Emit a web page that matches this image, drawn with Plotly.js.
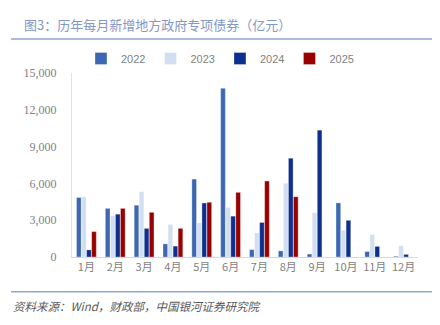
<!DOCTYPE html>
<html><head><meta charset="utf-8">
<script src="https://cdn.plot.ly/plotly-3.0.1.min.js"></script>
<style>html,body{margin:0;padding:0;background:#fff;}#chart{width:440px;height:325px;}</style>
</head><body><div id="chart"></div>
<script>
const months = ["1月","2月","3月","4月","5月","6月","7月","8月","9月","10月","11月","12月"];
const v2022 = [4850, 3960, 4220, 1070, 6350, 13750, 600, 500, 240, 4410, 445, 60];
const v2023 = [4900, 3360, 5320, 2650, 2780, 4040, 1970, 6010, 3620, 2180, 1840, 920];
const v2024 = [580, 3490, 2330, 890, 4400, 3330, 2810, 8050, 10340, 2990, 865, 210];
const v2025 = [2070, 3960, 3640, 2330, 4460, 5270, 6190, 4910, null, null, null, null];
const seriesNames = ["2022","2023","2024","2025"];
const colors = ["#3d67b3","#d2def1","#0d2f8f","#990000"];
const values = [v2022, v2023, v2024, v2025];

const traces = values.map((v,i)=>({
  type:"bar", x:months, y:v, name:seriesNames[i],
  marker:{color:colors[i], line:{color:"rgba(255,255,255,0.6)", width:0.5}},
  hoverinfo:"y"
}));

const layout = {
  width:440, height:325,
  margin:{l:72, r:22, t:67, b:68},
  paper_bgcolor:"#fff", plot_bgcolor:"#fff",
  barmode:"group", bargap:0.3, bargroupgap:0.08,
  font:{family:"Liberation Serif, serif", color:"#7f7f7f", size:11},
  showlegend:true,
  legend:{orientation:"h", xref:"container", x:0.5, xanchor:"center", y:1.0, yref:"container", yanchor:"top",
    font:{family:"Liberation Sans, sans-serif", size:11, color:"#7f7f7f"},
    itemwidth:30, traceorder:"normal"},
  xaxis:{type:"category", showgrid:false, showline:true, linecolor:"#d9d9d9", linewidth:1,
    ticks:"", tickfont:{family:"Noto Sans CJK SC, sans-serif", size:11, color:"#7f7f7f"}, fixedrange:true},
  yaxis:{range:[0,15000], tickvals:[0,3000,6000,9000,12000,15000], tickformat:",d",
    showgrid:false, showline:true, linecolor:"#e3e3e3", linewidth:1, zeroline:false, ticks:"",
    ticklabelstandoff:12,
    tickfont:{family:"Liberation Serif, serif", size:12, color:"#7f7f7f"}, fixedrange:true},
  annotations:[
    {text:"图3：历年每月新增地方政府专项债券（亿元）", xref:"paper", yref:"paper", x:0, y:0, xanchor:"left", yanchor:"middle",
     showarrow:false, font:{family:"Noto Sans CJK SC, sans-serif", size:13, color:"#8497c6"}},
    {text:"<i>资料来源：Wind，财政部，中国银河证券研究院</i>", xref:"paper", yref:"paper", x:0, y:0, xanchor:"left", yanchor:"middle",
     showarrow:false, font:{family:"Noto Sans CJK SC, sans-serif", size:11.5, color:"#595959"}}
  ],
  shapes:[
    {type:"line", xref:"paper", yref:"paper", x0:0, x1:1, y0:0, y1:0, line:{color:"#8ea6d0", width:1.5}},
    {type:"line", xref:"paper", yref:"paper", x0:0, x1:1, y0:0, y1:0, line:{color:"#8ea6d0", width:1.5}}
  ]
};

const pw = 440-72-22, ph = 325-67-68;
function px(x){return (x-72)/pw;}
function py(y){return (325-68-y)/ph;}
layout.annotations[0].x = px(22); layout.annotations[0].y = py(17);
layout.annotations[1].x = px(11); layout.annotations[1].y = py(308);
layout.shapes[0].x0 = px(11); layout.shapes[0].x1 = px(432); layout.shapes[0].y0 = layout.shapes[0].y1 = py(32);
layout.shapes[1].x0 = px(11); layout.shapes[1].x1 = px(432); layout.shapes[1].y0 = layout.shapes[1].y1 = py(293);
layout.legend.y = 1 - 44/325;

Plotly.newPlot("chart", traces, layout, {displayModeBar:false, staticPlot:true});
</script></body></html>
